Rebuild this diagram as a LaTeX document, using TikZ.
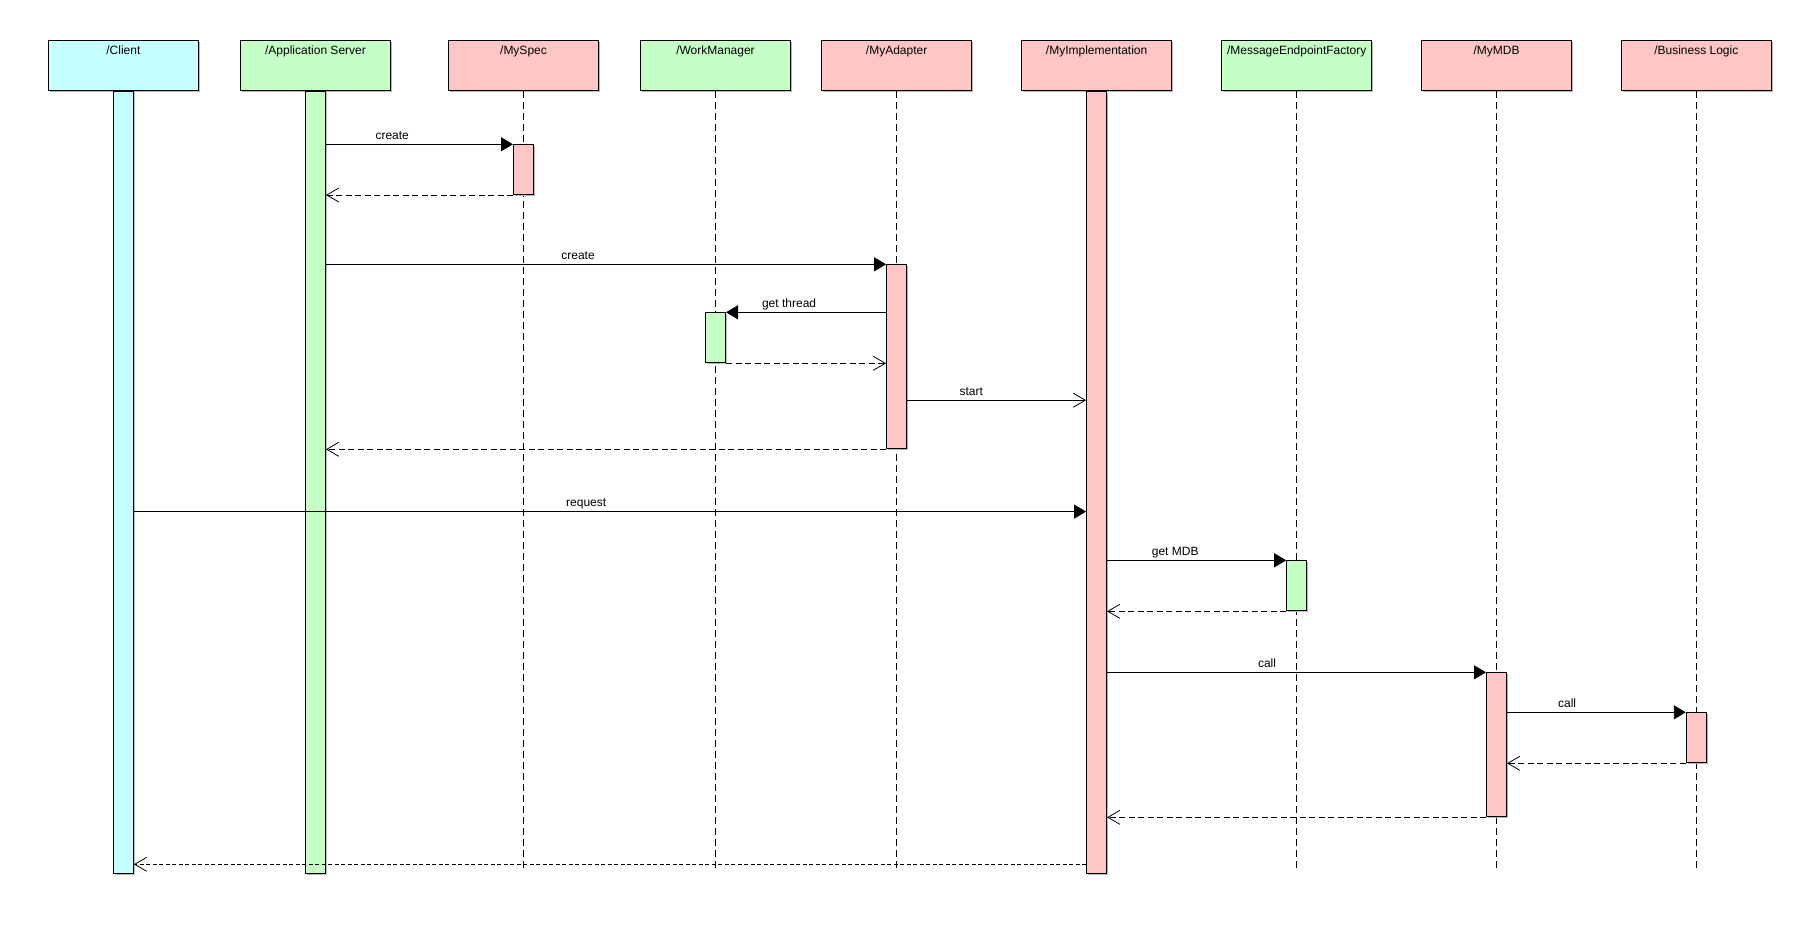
\documentclass[tikz,border=0pt]{standalone}
\usepackage{fontspec}
\setmainfont{Liberation Sans}
\usetikzlibrary{arrows.meta,shadows}
\definecolor{cyanbg}{RGB}{198,255,255}
\definecolor{greenbg}{RGB}{198,255,198}
\definecolor{pinkbg}{RGB}{255,198,198}
\begin{document}
\begin{tikzpicture}[x=1pt,y=-1pt,
  font=\fontsize{12}{14}\selectfont,
  shadowed/.style={general shadow={fill=black!28, shadow xshift=1.5pt, shadow yshift=-1.5pt}},
  objbox/.style={draw=black, line width=1.1pt, minimum width=150pt, minimum height=50pt,
    inner sep=0pt, text height=14pt, text depth=36pt, anchor=north, shadowed},
  actbar/.style={draw=black, line width=1pt, minimum width=20pt, inner sep=0pt, anchor=north, shadowed},
  lifeline/.style={draw=black, line width=0.9pt, dash pattern=on 7pt off 4pt},
  callmsg/.style={draw=black, line width=0.9pt, -{Triangle[length=12pt,width=14pt]}},
  startmsg/.style={draw=black, line width=0.9pt, -{Straight Barb[length=12pt,width=14pt,line width=0.8pt]}},
  retmsg/.style={draw=black, line width=0.9pt, dash pattern=on 6pt off 3.5pt, -{Straight Barb[length=12pt,width=14pt,line width=0.8pt]}},
  lbl/.style={anchor=base, inner sep=0pt, yshift=5pt}]
\useasboundingbox (0,0) rectangle (1819,929);
\coordinate (bottom) at (0,872.3);
% object boxes
\node[objbox, fill=cyanbg]  (client)    at (123.4,40.3)  {/Client};
\node[objbox, fill=greenbg] (appserver) at (315.5,40.3)  {/Application Server};
\node[objbox, fill=pinkbg]  (myspec)    at (523.5,40.3)  {/MySpec};
\node[objbox, fill=greenbg] (workmgr)   at (715.5,40.3)  {/WorkManager};
\node[objbox, fill=pinkbg]  (myadapter) at (896.6,40.3)  {/MyAdapter};
\node[objbox, fill=pinkbg]  (myimpl)    at (1096.6,40.3) {/MyImplementation};
\node[objbox, fill=greenbg] (mef)       at (1296.7,40.3) {/MessageEndpointFactory};
\node[objbox, fill=pinkbg]  (mymdb)     at (1496.5,40.3) {/MyMDB};
\node[objbox, fill=pinkbg]  (bizlogic)  at (1696.3,40.3) {/Business Logic};
% lifelines
\foreach \o in {myspec,workmgr,myadapter,mef,mymdb,bizlogic}
  \draw[lifeline] (\o.south) -- (\o.south |- bottom);
% activation bars
\node[actbar, fill=cyanbg,  minimum height=782pt] (clientbar)  at (client.south) {};
\node[actbar, fill=greenbg, minimum height=782pt] (appbar)     at (appserver.south) {};
\node[actbar, fill=pinkbg,  minimum height=782pt] (implbar)    at (myimpl.south) {};
\node[actbar, fill=pinkbg,  minimum height=49.7pt] (specbar)   at (523.5,144.3) {};
\node[actbar, fill=pinkbg,  minimum height=184pt] (adapterbar) at (896.6,264.3) {};
\node[actbar, fill=greenbg, minimum height=50pt]  (wmbar)      at (715.5,312.3) {};
\node[actbar, fill=greenbg, minimum height=50pt]  (mefbar)     at (1296.7,560.3) {};
\node[actbar, fill=pinkbg,  minimum height=144pt] (mdbbar)     at (1496.5,672.3) {};
\node[actbar, fill=pinkbg,  minimum height=50pt]  (blbar)      at (1696.3,712.3) {};
% messages
\draw[callmsg] (appbar.east |- specbar.north) -- node[lbl, pos=0.354] (m1) {create} (specbar.north west);
\draw[retmsg] (specbar.south west) -- (appbar.east |- specbar.south);
\draw[callmsg] (appbar.east |- adapterbar.north) -- node[lbl, pos=0.45] (m2) {create} (adapterbar.north west);
\draw[callmsg] (adapterbar.west |- wmbar.north) -- node[lbl, pos=0.606] (m3) {get thread} (wmbar.north east);
\draw[retmsg] (wmbar.south east) -- (adapterbar.west |- wmbar.south);
\coordinate (starty) at (0,400.2);
\draw[startmsg] (adapterbar.east |- starty) -- node[lbl, pos=0.358] (m4) {start} (implbar.west |- starty);
\draw[retmsg] (adapterbar.south west) -- (appbar.east |- adapterbar.south);
\coordinate (requesty) at (0,511.6);
\draw[callmsg] (clientbar.east |- requesty) -- node[lbl, pos=0.475] (m5) {request} (implbar.west |- requesty);
\draw[callmsg] (implbar.east |- mefbar.north) -- node[lbl, pos=0.38] (m6) {get MDB} (mefbar.north west);
\draw[retmsg] (mefbar.south west) -- (implbar.east |- mefbar.south);
\draw[callmsg] (implbar.east |- mdbbar.north) -- node[lbl, pos=0.422] (m7) {call} (mdbbar.north west);
\draw[callmsg] (mdbbar.east |- blbar.north) -- node[lbl, pos=0.336] (m8) {call} (blbar.north west);
\draw[retmsg] (blbar.south west) -- (mdbbar.east |- blbar.south);
\draw[retmsg] (mdbbar.south west) -- (implbar.east |- mdbbar.south);
\coordinate (finaly) at (0,864.3);
\draw[retmsg, dash pattern=on 4pt off 2.5pt] (implbar.west |- finaly) -- (clientbar.east |- finaly);
\end{tikzpicture}
\end{document}
